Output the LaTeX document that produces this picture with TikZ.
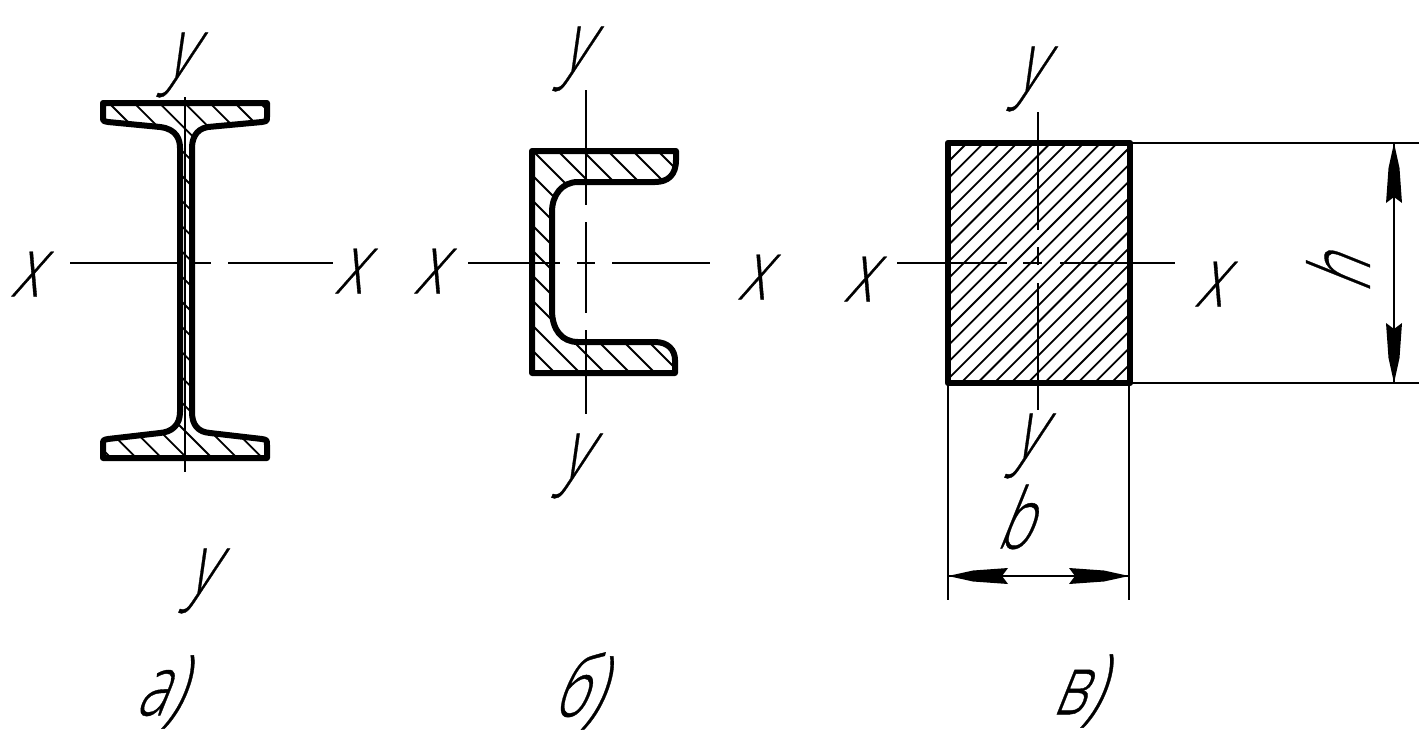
\documentclass[tikz,border=0pt]{standalone}
\usepackage{fontspec}
\setmainfont{Open Sans Light}[FakeBold=0.5]
\tikzset{
 x=1pt,y=-1pt,
 outline/.style={line width=6pt,line join=round},
 thin axis/.style={line width=1.9pt},
 hatchl/.style={line width=1.8pt},
 letter/.style={inner sep=0pt,font=\fontsize{84}{84}\selectfont,transform shape,xslant=0.4,xscale=0.68},
}
\begin{document}
\begin{tikzpicture}
\useasboundingbox (0,0) rectangle (1424,744);
% I-beam
\def\ibeam{(103,103) -- (267,103) -- (267,117) .. controls (267,121) .. (262,122) -- (208,127) .. controls (195,129) and (192,140) .. (192,148) -- (192,412) .. controls (192,425) and (198,432) .. (210,433) -- (262,439) .. controls (267,440) .. (267,445) -- (267,458) -- (103,458) -- (103,445) .. controls (103,440) .. (108,439) -- (160,433) .. controls (172,432) and (180,425) .. (180,412) -- (180,148) .. controls (180,140) and (177,129) .. (160,127) -- (108,122) .. controls (103,121) .. (103,117) -- cycle}
\begin{scope}
\clip \ibeam;
\foreach \i in {-16,...,8} \draw[hatchl] (96+\i*25.2,90) -- ++(400,400);
\end{scope}
\draw[outline] \ibeam;
\draw[thin axis] (185,97) -- (185,472);
\draw[thin axis] (70,263) -- (178,263) (193,263) -- (211,263) (228,263) -- (333,263);
% channel
\def\chan{(532,151) -- (676,151) -- (676,160) .. controls (676,175) and (668,182) .. (655,182) -- (578,182) .. controls (562,182) and (552,195) .. (552,212) -- (552,310) .. controls (552,330) and (562,342) .. (578,342) -- (655,342) .. controls (668,342) and (675,350) .. (675,360) -- (675,373) -- (532,373) -- cycle}
\begin{scope}
\clip \chan;
\foreach \i in {-8,...,14} \draw[hatchl] (532+\i*25,150) -- ++(300,300);
\end{scope}
\draw[outline] \chan;
\draw[thin axis] (586,90) -- (586,205) (586,222) -- (586,313) (586,330) -- (586,414);
\draw[thin axis] (468,263) -- (560,263) (577,263) -- (595,263) (612,263) -- (710,263);
% rectangle
\begin{scope}
\clip (948,143) rectangle (1130,383);
\foreach \i in {-2,...,24} \draw[hatchl] (947+\i*16.7,163) -- ++(300,-300) (947+\i*16.7,163) -- ++(-300,300);
\end{scope}
\draw[line width=6.5pt,line join=round] (948,143) rectangle (1130,383);
\draw[thin axis] (1038,112) -- (1038,230) (1038,247) -- (1038,265) (1038,283) -- (1038,410);
\draw[thin axis] (897,263) -- (1007,263) (1023,263) -- (1042,263) (1060,263) -- (1175,263);
% dimensions
\draw[thin axis] (1130,143) -- (1419,143) (1130,383) -- (1419,383) (948,383) -- (948,600) (1129,383) -- (1129,600);
\coordinate (ha) at (1394,143); \coordinate (hb) at (1394,383);
\coordinate (ba) at (948,576); \coordinate (bb) at (1129,576);
\draw[thin axis] (ha) -- (hb) (ba) -- (bb);
\fill (ha) -- ++(5.5,25) -- ++(2.5,35) -- ++(-8,-6) -- ++(-8,6) -- ++(2.5,-35) -- cycle;
\fill (hb) -- ++(5.5,-25) -- ++(2.5,-35) -- ++(-8,6) -- ++(-8,-6) -- ++(2.5,35) -- cycle;
\fill (ba) -- ++(25,-5.5) -- ++(35,-2.5) -- ++(-6,8) -- ++(6,8) -- ++(-35,-2.5) -- cycle;
\fill (bb) -- ++(-25,-5.5) -- ++(-35,-2.5) -- ++(6,8) -- ++(-6,8) -- ++(35,-2.5) -- cycle;
% letters
\node[letter] (y1) at (182,65) {y};
\node[letter] (y2) at (578,59) {y};
\node[letter] (y3) at (1032,79) {y};
\node[letter] (y4) at (577,466) {y};
\node[letter] (y5) at (1030,446) {y};
\node[letter] (y6) at (204,581) {y};
\node[letter] (x1) at (33,274) {x};
\node[letter] (x2) at (357,271) {x};
\node[letter] (x3) at (436,271) {x};
\node[letter] (x4) at (760,277) {x};
\node[letter] (x5) at (866,279) {x};
\node[letter] (x6) at (1217,284) {x};
\node[rotate=90,letter] (h) at (1338,264) {h};
\node[letter] (b) at (1025,517) {b};
\node[letter] (a) at (167,692) {а)};
\node[letter] (be) at (586,691) {б)};
\node[letter] (ve) at (1085,691) {в)};
\end{tikzpicture}
\end{document}
